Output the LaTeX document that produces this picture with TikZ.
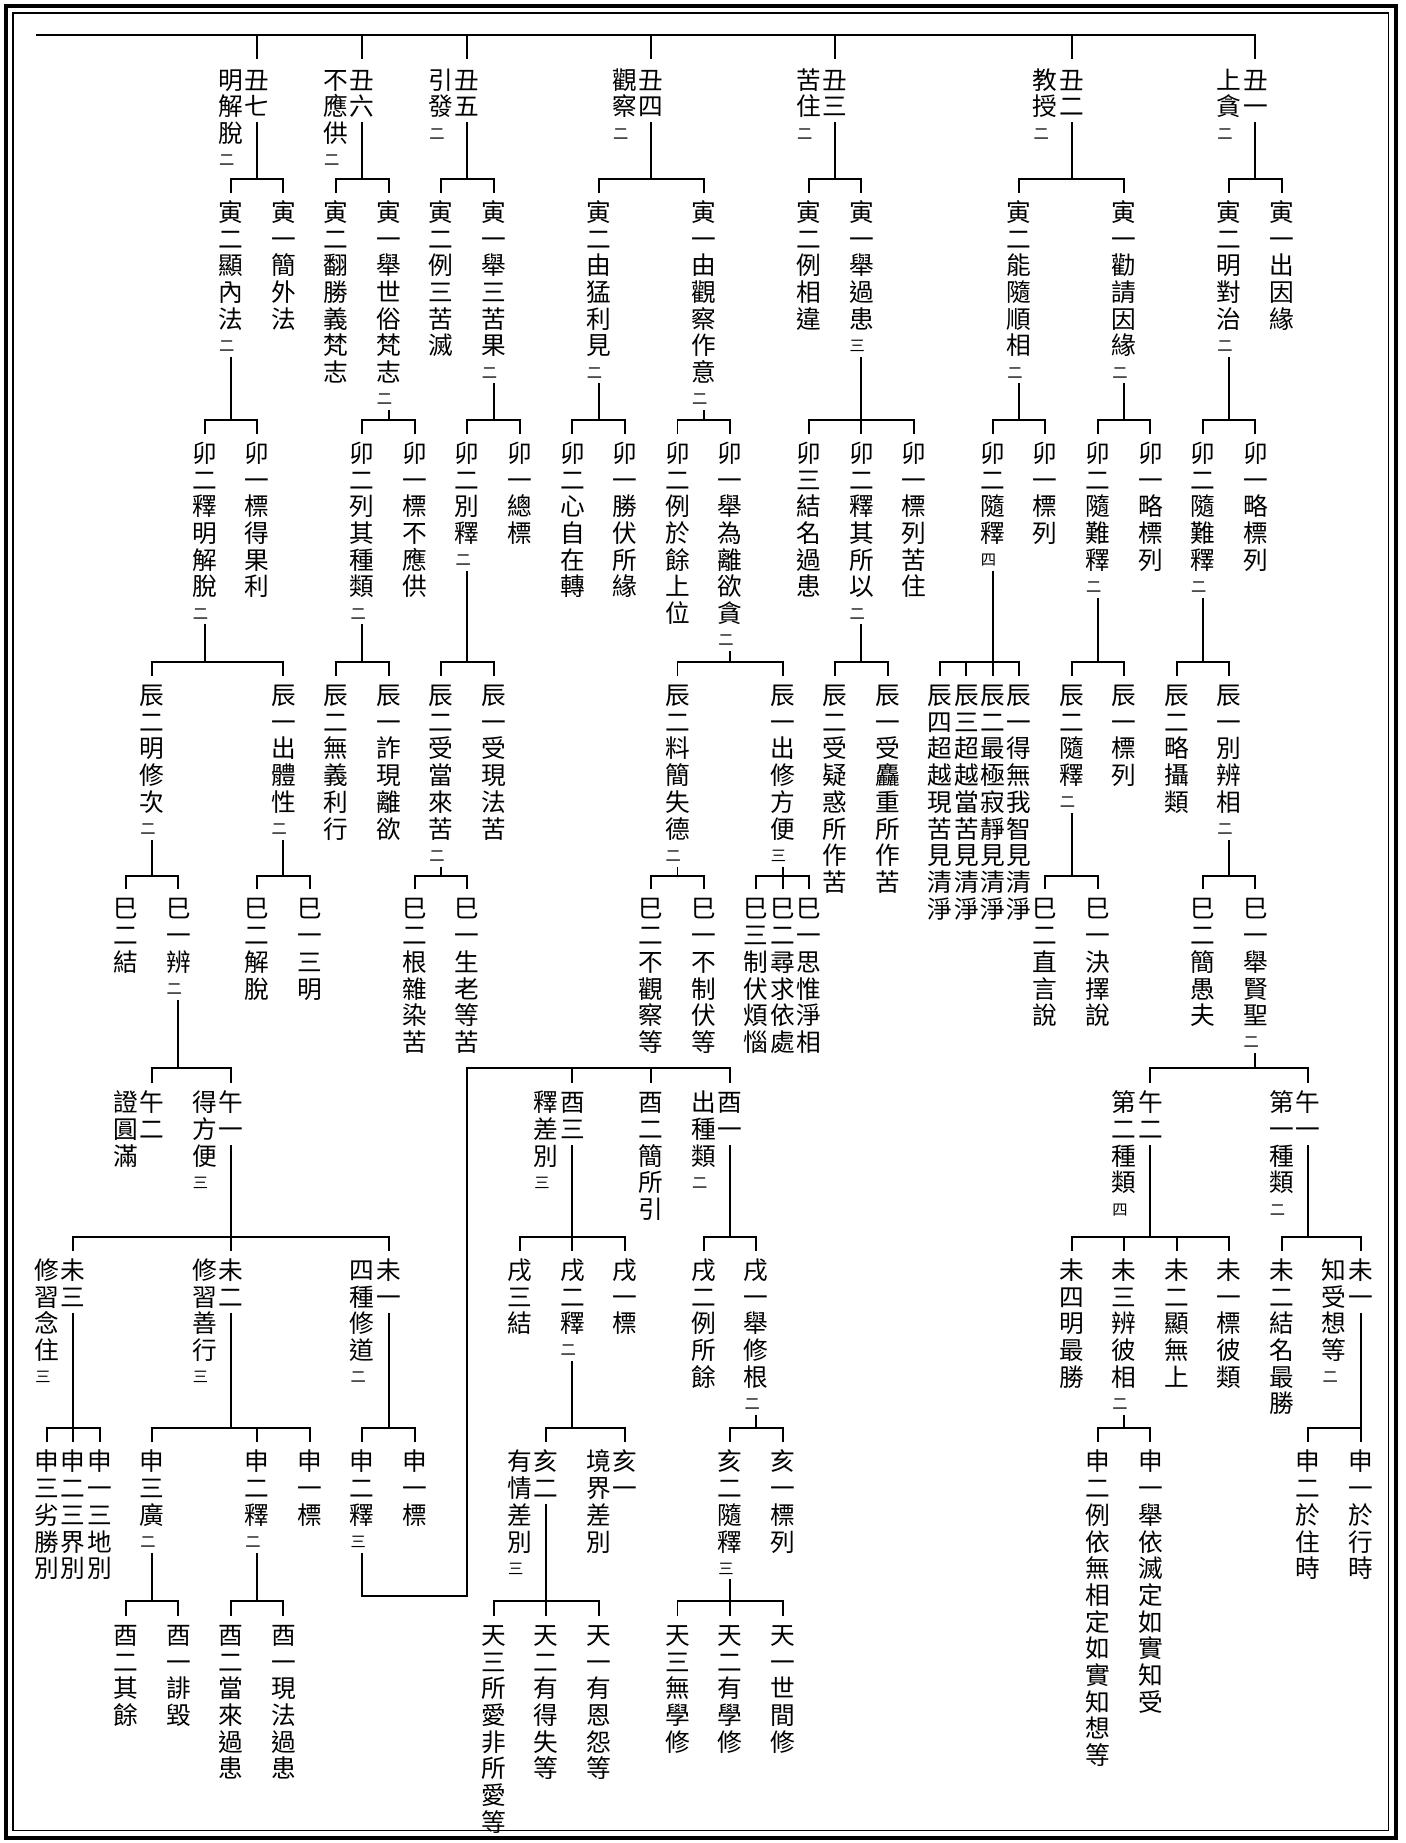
\documentclass[tikz,border=0pt]{standalone}
\usepackage{fontspec}
\newfontfamily\cjk{Noto Sans CJK TC}
\newcommand\vtc[1]{\hbox to 21pt{\hss\vrule height 18.48pt depth 2.52pt width 0pt\relax#1\hss}}
\def\vtloop#1{\ifx\relax#1\else\vtc{#1}\expandafter\vtloop\fi}
\newcommand\vt[2]{\vbox{\cjk\fontsize{21pt}{22.7pt}\selectfont\baselineskip=22.7pt\lineskiplimit=-50pt\vtloop#1\relax
  \if\relax\detokenize{#2}\relax\else\nointerlineskip\vskip 5.7pt\hbox to 21pt{\kern0.5pt\fontsize{13pt}{13pt}\selectfont\vrule height 11.44pt depth 1.56pt width 0pt\relax#2\hss}\fi}}
\tikzset{tn/.style={anchor=north, inner sep=0pt, outer sep=0pt},
  conn/.style={line width=1.7pt}}
\newcommand\N[5]{\node[tn] (#1) at ({40+22.35*#2},{#3-10.5}) {\vt{#4}{#5}};}
\newcommand\Br[4]{%
  \coordinate (bY) at (0,#2);
  \draw[conn] ([yshift=-3pt]#1.south) -- (#1.south |- bY);
  \draw[conn] ([yshift=6pt]#3.north) -- (#3.north |- bY) -- (#4.north |- bY) -- ([yshift=6pt]#4.north);}
\newcommand\Dr[2]{\coordinate (dY) at (0,#2);\draw[conn] (#1.north |- dY) -- ([yshift=6pt]#1.north);}
\begin{document}
\begin{tikzpicture}[x=1pt,y=-1pt]
\useasboundingbox (0,0) rectangle (1196,1568);
\draw[line width=3.5pt] (5,5) rectangle (1188,1564);
\draw[line width=1.3pt] (11,11) rectangle (1181.5,1557.5);
% level 1
\N{a7}{8}{68}{丑七}{}
\N{t7}{7}{68}{明解脫}{二}
\N{a6}{12}{68}{丑六}{}
\N{t6}{11}{68}{不應供}{二}
\N{a5}{16}{68}{丑五}{}
\N{t5}{15}{68}{引發}{二}
\N{a4}{23}{68}{丑四}{}
\N{t4}{22}{68}{觀察}{二}
\N{a3}{30}{68}{丑三}{}
\N{t3}{29}{68}{苦住}{二}
\N{a2}{39}{68}{丑二}{}
\N{t2}{38}{68}{教授}{二}
\N{a1}{46}{68}{丑一}{}
\N{t1}{45}{68}{上貪}{二}
\coordinate (t0) at (31,30);
\draw[conn] (t0) -- (a1.north |- t0) -- ([yshift=7pt]a1.north);
\foreach \c in {a2,a3,a4,a5,a6,a7} {\draw[conn] (\c.north |- t0) -- ([yshift=7pt]\c.north);}
% level 2
\N{b7b}{7}{180.5}{寅二顯內法}{二}
\N{b7a}{9}{180.5}{寅一簡外法}{}
\N{b6b}{11}{180.5}{寅二翻勝義梵志}{}
\N{b6a}{13}{180.5}{寅一舉世俗梵志}{二}
\N{b5b}{15}{180.5}{寅二例三苦滅}{}
\N{b5a}{17}{180.5}{寅一舉三苦果}{二}
\N{b4b}{21}{180.5}{寅二由猛利見}{二}
\N{b4a}{25}{180.5}{寅一由觀察作意}{二}
\N{b3b}{29}{180.5}{寅二例相違}{}
\N{b3a}{31}{180.5}{寅一舉過患}{三}
\N{b2b}{37}{180.5}{寅二能隨順相}{二}
\N{b2a}{41}{180.5}{寅一勸請因緣}{二}
\N{b1b}{45}{180.5}{寅二明對治}{二}
\N{b1a}{47}{180.5}{寅一出因緣}{}
\Br{a7}{152}{b7b}{b7a}
\Br{a6}{152}{b6b}{b6a}
\Br{a5}{152}{b5b}{b5a}
\Br{a4}{152}{b4b}{b4a}
\Br{a3}{152}{b3b}{b3a}
\Br{a2}{152}{b2b}{b2a}
\Br{a1}{152}{b1b}{b1a}
% level 3
\N{c1}{6}{385.5}{卯二釋明解脫}{二}
\N{c2}{8}{385.5}{卯一標得果利}{}
\N{c3}{12}{385.5}{卯二列其種類}{二}
\N{c4}{14}{385.5}{卯一標不應供}{}
\N{c5}{16}{385.5}{卯二別釋}{二}
\N{c6}{18}{385.5}{卯一總標}{}
\N{c7}{20}{385.5}{卯二心自在轉}{}
\N{c8}{22}{385.5}{卯一勝伏所緣}{}
\N{c9}{24}{385.5}{卯二例於餘上位}{}
\N{c10}{26}{385.5}{卯一舉為離欲貪}{二}
\N{c11}{29}{385.5}{卯三結名過患}{}
\N{c12}{31}{385.5}{卯二釋其所以}{二}
\N{c13}{33}{385.5}{卯一標列苦住}{}
\N{c14}{36}{385.5}{卯二隨釋}{四}
\N{c15}{38}{385.5}{卯一標列}{}
\N{c16}{40}{385.5}{卯二隨難釋}{二}
\N{c17}{42}{385.5}{卯一略標列}{}
\N{c18}{44}{385.5}{卯二隨難釋}{二}
\N{c19}{46}{385.5}{卯一略標列}{}
\Br{b7b}{357}{c1}{c2}
\Br{b6a}{357}{c3}{c4}
\Br{b5a}{357}{c5}{c6}
\Br{b4b}{357}{c7}{c8}
\Br{b4a}{357}{c9}{c10}
\Br{b3a}{357}{c11}{c13}\Dr{c12}{357}
\Br{b2b}{357}{c14}{c15}
\Br{b2a}{357}{c16}{c17}
\Br{b1b}{357}{c18}{c19}
% level 4
\N{d1}{4}{591.5}{辰二明修次}{二}
\N{d2}{9}{591.5}{辰一出體性}{二}
\N{d3}{11}{591.5}{辰二無義利行}{}
\N{d4}{13}{591.5}{辰一詐現離欲}{}
\N{d5}{15}{591.5}{辰二受當來苦}{二}
\N{d6}{17}{591.5}{辰一受現法苦}{}
\N{d7}{24}{591.5}{辰二料簡失德}{二}
\N{d8}{28}{591.5}{辰一出修方便}{三}
\N{d9}{30}{591.5}{辰二受疑惑所作苦}{}
\N{d10}{32}{591.5}{辰一受麤重所作苦}{}
\N{d11}{34}{591.5}{辰四超越現苦見清淨}{}
\N{d12}{35}{591.5}{辰三超越當苦見清淨}{}
\N{d13}{36}{591.5}{辰二最極寂靜見清淨}{}
\N{d14}{37}{591.5}{辰一得無我智見清淨}{}
\N{d15}{39}{591.5}{辰二隨釋}{二}
\N{d16}{41}{591.5}{辰一標列}{}
\N{d17}{43}{591.5}{辰二略攝類}{}
\N{d18}{45}{591.5}{辰一別辨相}{二}
\Br{c1}{563}{d1}{d2}
\Br{c3}{563}{d3}{d4}
\Br{c5}{563}{d5}{d6}
\Br{c10}{563}{d7}{d8}
\Br{c12}{563}{d9}{d10}
\Br{c14}{563}{d11}{d14}\Dr{d12}{563}\Dr{d13}{563}
\Br{c16}{563}{d15}{d16}
\Br{c18}{563}{d17}{d18}
% level 5
\N{e1}{3}{773}{巳二結}{}
\N{e2}{5}{773}{巳一辨}{二}
\N{e3}{8}{773}{巳二解脫}{}
\N{e4}{10}{773}{巳一三明}{}
\N{e5}{14}{773}{巳二根雜染苦}{}
\N{e6}{16}{773}{巳一生老等苦}{}
\N{e7}{23}{773}{巳二不觀察等}{}
\N{e8}{25}{773}{巳一不制伏等}{}
\N{e9}{27}{773}{巳三制伏煩惱}{}
\N{e10}{28}{773}{巳二尋求依處}{}
\N{e11}{29}{773}{巳一思惟淨相}{}
\N{e12}{38}{773}{巳二直言說}{}
\N{e13}{40}{773}{巳一決擇說}{}
\N{e14}{44}{773}{巳二簡愚夫}{}
\N{e15}{46}{773}{巳一舉賢聖}{二}
\Br{d1}{745}{e1}{e2}
\Br{d2}{745}{e3}{e4}
\Br{d5}{745}{e5}{e6}
\Br{d7}{745}{e7}{e8}
\Br{d8}{745}{e9}{e11}\Dr{e10}{745}
\Br{d15}{745}{e12}{e13}
\Br{d18}{745}{e14}{e15}
% level 6
\N{f1}{4}{938}{午二}{}
\N{ft1}{3}{938}{證圓滿}{}
\N{f2}{7}{938}{午一}{}
\N{ft2}{6}{938}{得方便}{三}
\N{f3}{42}{938}{午二}{}
\N{ft3}{41}{938}{第二種類}{四}
\N{f4}{48}{938}{午一}{}
\N{ft4}{47}{938}{第一種類}{二}
\N{g1}{20}{938}{酉三}{}
\N{gt1}{19}{938}{釋差別}{三}
\N{g2}{23}{938}{酉二簡所引}{}
\N{g3}{26}{938}{酉一}{}
\N{gt3}{25}{938}{出種類}{二}
\Br{e2}{909}{f1}{f2}
\Br{e15}{909}{f3}{f4}
% level 7
\N{h1}{1}{1080.5}{未三}{}
\N{ht1}{0}{1080.5}{修習念住}{三}
\N{h2}{7}{1080.5}{未二}{}
\N{ht2}{6}{1080.5}{修習善行}{三}
\N{h3}{13}{1080.5}{未一}{}
\N{ht3}{12}{1080.5}{四種修道}{二}
\N{i1}{18}{1080.5}{戌三結}{}
\N{i2}{20}{1080.5}{戌二釋}{二}
\N{i3}{22}{1080.5}{戌一標}{}
\N{i4}{25}{1080.5}{戌二例所餘}{}
\N{i5}{27}{1080.5}{戌一舉修根}{二}
\N{h4}{39}{1080.5}{未四明最勝}{}
\N{h5}{41}{1080.5}{未三辨彼相}{二}
\N{h6}{43}{1080.5}{未二顯無上}{}
\N{h7}{45}{1080.5}{未一標彼類}{}
\N{h8}{47}{1080.5}{未二結名最勝}{}
\N{h9}{50}{1080.5}{未一}{}
\N{ht9}{49}{1080.5}{知受想等}{二}
\Br{f2}{1052}{h1}{h3}\Dr{h2}{1052}
\Br{g1}{1052}{i1}{i3}\Dr{i2}{1052}
\Br{g3}{1052}{i4}{i5}
\Br{f3}{1052}{h4}{h7}\Dr{h5}{1052}\Dr{h6}{1052}
\Br{f4}{1052}{h8}{h9}
% level 8
\N{j1}{0}{1243.5}{申三劣勝別}{}
\N{j2}{1}{1243.5}{申二三界別}{}
\N{j3}{2}{1243.5}{申一三地別}{}
\N{j4}{4}{1243.5}{申三廣}{二}
\N{j5}{8}{1243.5}{申二釋}{二}
\N{j6}{10}{1243.5}{申一標}{}
\N{j7}{12}{1243.5}{申二釋}{三}
\N{j8}{14}{1243.5}{申一標}{}
\N{l1}{19}{1243.5}{亥二}{}
\N{lt1}{18}{1243.5}{有情差別}{三}
\N{l2}{22}{1243.5}{亥一}{}
\N{lt2}{21}{1243.5}{境界差別}{}
\N{l3}{26}{1243.5}{亥二隨釋}{三}
\N{l4}{28}{1243.5}{亥一標列}{}
\N{j9}{40}{1243.5}{申二例依無相定如實知想等}{}
\N{j10}{42}{1243.5}{申一舉依滅定如實知受}{}
\N{j11}{48}{1243.5}{申二於住時}{}
\N{j12}{50}{1243.5}{申一於行時}{}
\Br{h1}{1215}{j1}{j3}\Dr{j2}{1215}
\Br{h2}{1215}{j4}{j6}\Dr{j5}{1215}
\Br{h3}{1215}{j7}{j8}
\Br{i2}{1215}{l1}{l2}
\Br{i5}{1215}{l3}{l4}
\Br{h5}{1215}{j9}{j10}
\Br{h9}{1215}{j11}{j12}
% level 9
\N{m1}{3}{1391}{酉二其餘}{}
\N{m2}{5}{1391}{酉一誹毀}{}
\N{m3}{7}{1391}{酉二當來過患}{}
\N{m4}{9}{1391}{酉一現法過患}{}
\N{n1}{17}{1391}{天三所愛非所愛等}{}
\N{n2}{19}{1391}{天二有得失等}{}
\N{n3}{21}{1391}{天一有恩怨等}{}
\N{n4}{24}{1391}{天三無學修}{}
\N{n5}{26}{1391}{天二有學修}{}
\N{n6}{28}{1391}{天一世間修}{}
\Br{j4}{1362}{m1}{m2}
\Br{j5}{1362}{m3}{m4}
\Br{l1}{1362}{n1}{n3}\Dr{n2}{1362}
\Br{l3}{1362}{n4}{n6}\Dr{n5}{1362}
% special connector
\coordinate (sA) at ({40+22.35*16},1358);
\coordinate (sB) at ({40+22.35*16},909);
\draw[conn] ([yshift=-3pt]j7.south) -- (j7.south |- sA) -- (sA) -- (sB) -- (g3.north |- sB) -- ([yshift=6pt]g3.north);
\draw[conn] (g1.north |- sB) -- ([yshift=6pt]g1.north);
\draw[conn] (g2.north |- sB) -- ([yshift=6pt]g2.north);
\end{tikzpicture}
\end{document}
